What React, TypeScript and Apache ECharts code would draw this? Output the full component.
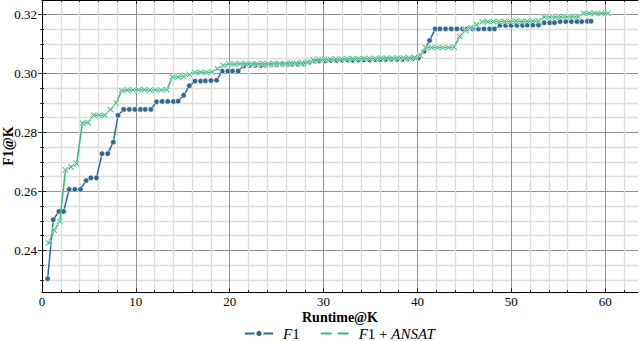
import React, { useEffect, useRef } from "react";
import * as echarts from "echarts";

// ---- data ----
const f1X = [
  0.6, 1.2, 1.8, 2.3, 2.9, 3.5, 4.1, 4.7, 5.2, 5.8, 6.4, 7.0, 7.6, 8.1, 8.7, 9.3, 9.9, 10.5, 11.0, 11.6,
  12.2, 12.8, 13.4, 14.0, 14.5, 15.1, 15.7, 16.3, 16.9, 17.4, 18.0, 18.6, 19.2, 19.8, 20.3, 20.9, 21.5, 22.1, 22.7, 23.3,
  23.8, 24.4, 25.0, 25.6, 26.2, 26.7, 27.3, 27.9, 28.5, 29.1, 29.6, 30.2, 30.8, 31.4, 32.0, 32.6, 33.1, 33.7, 34.3, 34.9,
  35.5, 36.0, 36.6, 37.2, 37.8, 38.4, 38.9, 39.5, 40.1, 40.7, 41.3, 41.9, 42.4, 43.0, 43.6, 44.2, 44.8, 45.3, 45.9, 46.5,
  47.1, 47.7, 48.2, 48.8, 49.4, 50.0, 50.6, 51.2, 51.7, 52.3, 52.9, 53.5, 54.1, 54.6, 55.2, 55.8, 56.4, 57.0, 57.5, 58.1, 58.5,
];
const f1Y = [
  0.2304, 0.2504, 0.2532, 0.2532, 0.2607, 0.2607, 0.2607, 0.2637, 0.2646, 0.2646, 0.2728, 0.2728, 0.2767, 0.2858, 0.2878, 0.2878, 0.2878, 0.2878, 0.2878, 0.2878,
  0.2904, 0.2905, 0.2905, 0.2905, 0.2906, 0.2926, 0.2958, 0.2974, 0.2974, 0.2975, 0.2976, 0.2977, 0.3008, 0.3008, 0.3008, 0.3008, 0.3026, 0.3027, 0.3027, 0.3027,
  0.3028, 0.3029, 0.3029, 0.303, 0.303, 0.3031, 0.3031, 0.3032, 0.3038, 0.3042, 0.3043, 0.3043, 0.3044, 0.3044, 0.3045, 0.3045, 0.3045, 0.3046, 0.3046, 0.3046,
  0.3047, 0.3047, 0.3047, 0.3048, 0.3048, 0.3048, 0.3049, 0.305, 0.3052, 0.3075, 0.3112, 0.3151, 0.3151, 0.3151, 0.3151, 0.3151, 0.3151, 0.3151, 0.3151, 0.3151,
  0.3151, 0.3151, 0.3151, 0.3163, 0.3163, 0.3163, 0.3163, 0.3163, 0.3164, 0.3164, 0.3164, 0.3172, 0.3172, 0.3172, 0.3176, 0.3176, 0.3176, 0.3176, 0.3176, 0.3177, 0.3177,
];
const ansatX = [
  0.7, 1.3, 1.9, 2.5, 3.1, 3.7, 4.3, 4.9, 5.5, 6.1, 6.7, 7.3, 7.9, 8.5, 9.1, 9.7, 10.3, 10.9, 11.5, 12.1,
  12.7, 13.3, 13.9, 14.5, 15.1, 15.7, 16.3, 16.9, 17.5, 18.1, 18.7, 19.3, 19.9, 20.5, 21.1, 21.7, 22.3, 22.9, 23.5, 24.1,
  24.7, 25.3, 25.9, 26.5, 27.1, 27.7, 28.3, 28.9, 29.5, 30.1, 30.7, 31.3, 31.9, 32.5, 33.1, 33.7, 34.3, 34.9, 35.5, 36.1,
  36.7, 37.3, 37.9, 38.5, 39.1, 39.7, 40.3, 40.9, 41.5, 42.1, 42.7, 43.3, 43.9, 44.5, 45.1, 45.7, 46.3, 46.9, 47.5, 48.1,
  48.7, 49.3, 49.9, 50.5, 51.1, 51.7, 52.3, 52.9, 53.5, 54.1, 54.7, 55.3, 55.9, 56.5, 57.1, 57.7, 58.3, 58.9, 59.6, 60.3,
];
const ansatY = [
  0.2425, 0.2468, 0.2499, 0.2673, 0.2683, 0.2694, 0.2832, 0.2834, 0.2858, 0.2858, 0.2858, 0.2878, 0.29, 0.2942, 0.2944, 0.2944, 0.2945, 0.2945, 0.2944, 0.2944,
  0.2944, 0.2945, 0.2988, 0.2988, 0.299, 0.2996, 0.3003, 0.3004, 0.3004, 0.3005, 0.3016, 0.3027, 0.3032, 0.3032, 0.3033, 0.3033, 0.3033, 0.3033, 0.3034, 0.3033,
  0.3034, 0.3034, 0.3034, 0.3035, 0.3035, 0.3036, 0.3038, 0.3046, 0.3047, 0.3048, 0.3048, 0.3049, 0.3049, 0.305, 0.305, 0.305, 0.3051, 0.3051, 0.3051, 0.3052,
  0.3052, 0.3052, 0.3052, 0.3053, 0.3053, 0.3054, 0.3062, 0.3087, 0.3088, 0.3088, 0.3088, 0.3088, 0.3089, 0.3125, 0.3146, 0.3156, 0.3165, 0.3175, 0.3175, 0.3176,
  0.3176, 0.3176, 0.3176, 0.3177, 0.3177, 0.3177, 0.3178, 0.3178, 0.3191, 0.3191, 0.3191, 0.3191, 0.3191, 0.3192, 0.3192, 0.3204, 0.3204, 0.3204, 0.3204, 0.3204,
];

const xLabelTicks = [0, 10, 20, 30, 40, 50, 60];
const xMajorGrid = [10, 20, 30, 40, 50, 60];
const xMinorGrid = [2, 4, 6, 8, 12, 14, 16, 18, 22, 24, 26, 28, 32, 34, 36, 38, 42, 44, 46, 48, 52, 54, 56, 58, 62];
const yMajorTicks = [0.24, 0.26, 0.28, 0.3, 0.32];
const yMinorGrid = [0.23, 0.235, 0.245, 0.25, 0.255, 0.265, 0.27, 0.275, 0.285, 0.29, 0.295, 0.305, 0.31, 0.315];
const X_MIN = 0;
const X_MAX = 63.5;
const Y_MIN = 0.2259;
const Y_MAX = 0.3249;

const seriesNames = ["F1", "F1 + ANSAT"];

const BLUE = "#31688e";
const GREEN = "#35b779";
const SERIF = "'Liberation Serif', 'DejaVu Serif', serif";
const X_SYMBOL = "path://M0,1.5 L1.5,0 L5,3.5 L8.5,0 L10,1.5 L6.5,5 L10,8.5 L8.5,10 L5,6.5 L1.5,10 L0,8.5 L3.5,5 Z";

const zip = (xs: number[], ys: number[]) => xs.map((x, i) => [x, ys[i]]);

function xAxisDef(position: string, ticks: number[], len: number, opts: any = {}) {
  return {
    type: "value",
    position,
    min: X_MIN,
    max: X_MAX,
    axisLine: { show: false },
    axisTick: { show: true, inside: true, length: len, customValues: ticks, lineStyle: { color: "#000", width: 0.8 } },
    axisLabel: { show: false },
    splitLine: { show: false },
    ...opts,
  };
}
function yAxisDef(position: string, ticks: number[], len: number, opts: any = {}) {
  return {
    type: "value",
    position,
    min: Y_MIN,
    max: Y_MAX,
    axisLine: { show: false },
    axisTick: { show: true, inside: true, length: len, customValues: ticks, lineStyle: { color: "#000", width: 0.8 } },
    axisLabel: { show: false },
    splitLine: { show: false },
    ...opts,
  };
}

export default function App() {
  const ref = useRef<HTMLDivElement>(null);
  useEffect(() => {
    if (!ref.current) return;
    const chart = echarts.init(ref.current, null, { renderer: "svg" });
    const option: any = {
      animation: false,
      textStyle: { fontFamily: SERIF },
      grid: { left: 42, right: 2, top: 0, bottom: 49, containLabel: false, outerBoundsMode: "none" },
      legend: {
        bottom: 0,
        left: 244,
        padding: 0,
        itemWidth: 28,
        itemHeight: 9,
        itemGap: 20,
        data: seriesNames,
        formatter: (name: string) =>
          name === "F1" ? "{g|}{i|F}{n|1}" : "{g|}{i|F}{n|1 + }{i|ANSAT}",
        textStyle: {
          fontFamily: SERIF,
          fontSize: 15,
          color: "#000",
          rich: {
            g: { width: 5 },
            i: { fontFamily: SERIF, fontSize: 15, fontStyle: "italic", color: "#000" },
            n: { fontFamily: SERIF, fontSize: 15, fontStyle: "normal", color: "#000" },
          },
        },
      },
      xAxis: [
        xAxisDef("bottom", xMinorGrid, 2, {
          splitLine: { show: true, lineStyle: { color: "#dcdcdc", width: 1.3 } },
        }),
        xAxisDef("bottom", xMajorGrid, 4, {
          axisLine: { show: true, lineStyle: { color: "#000", width: 1 } },
          splitLine: { show: true, lineStyle: { color: "#8f8f8f", width: 1 } },
          axisLabel: {
            show: true,
            customValues: xLabelTicks,
            margin: 3,
            fontFamily: SERIF,
            fontSize: 13,
            color: "#000",
            formatter: (v: number) => String(v),
          },
          name: "Runtime@K",
          nameLocation: "middle",
          nameGap: 18,
          nameMoveOverlap: false,
          nameTextStyle: { fontFamily: SERIF, fontSize: 14, fontWeight: "bold", color: "#000", verticalAlign: "top" },
        }),
        xAxisDef("top", xMajorGrid, 4, {
          axisLine: { show: true, lineStyle: { color: "#000", width: 1 } },
        }),
        xAxisDef("top", xMinorGrid, 2),
      ],
      yAxis: [
        yAxisDef("left", yMinorGrid, 2, {
          splitLine: { show: true, lineStyle: { color: "#dcdcdc", width: 1.3 } },
        }),
        yAxisDef("left", yMajorTicks, 4, {
          axisLine: { show: true, lineStyle: { color: "#000", width: 1 } },
          splitLine: { show: true, lineStyle: { color: "#8f8f8f", width: 1 } },
          axisLabel: {
            show: true,
            customValues: yMajorTicks,
            margin: 5,
            fontFamily: SERIF,
            fontSize: 13,
            color: "#000",
            formatter: (v: number) => v.toFixed(2),
          },
          name: "F1@K",
          nameLocation: "middle",
          nameRotate: 90,
          nameGap: 27,
          nameMoveOverlap: false,
          nameTextStyle: { fontFamily: SERIF, fontSize: 14, fontWeight: "bold", color: "#000" },
        }),
        yAxisDef("right", yMajorTicks, 4, {
          axisLine: { show: true, lineStyle: { color: "#000", width: 1 } },
        }),
        yAxisDef("right", yMinorGrid, 2),
      ],
      series: [
        {
          name: seriesNames[0],
          type: "line",
          xAxisIndex: 1,
          yAxisIndex: 1,
          data: zip(f1X, f1Y),
          symbol: "circle",
          symbolSize: 5.5,
          showSymbol: true,
          color: BLUE,
          lineStyle: { color: BLUE, width: 1.5 },
          itemStyle: { color: BLUE, borderColor: "#fff", borderWidth: 0.6 },
          z: 3,
        },
        {
          name: seriesNames[1],
          type: "line",
          xAxisIndex: 1,
          yAxisIndex: 1,
          data: zip(ansatX, ansatY),
          symbol: X_SYMBOL,
          symbolSize: 6.5,
          showSymbol: true,
          color: GREEN,
          lineStyle: { color: GREEN, width: 1.5 },
          itemStyle: { color: GREEN, borderColor: "#fff", borderWidth: 0.6 },
          z: 4,
        },
      ],
    };
    chart.setOption(option);
    return () => chart.dispose();
  }, []);
  return (
    <div
      ref={ref}
      style={{ position: "absolute", left: 0, top: 0, width: 640, height: 341, background: "#fff" }}
    />
  );
}
